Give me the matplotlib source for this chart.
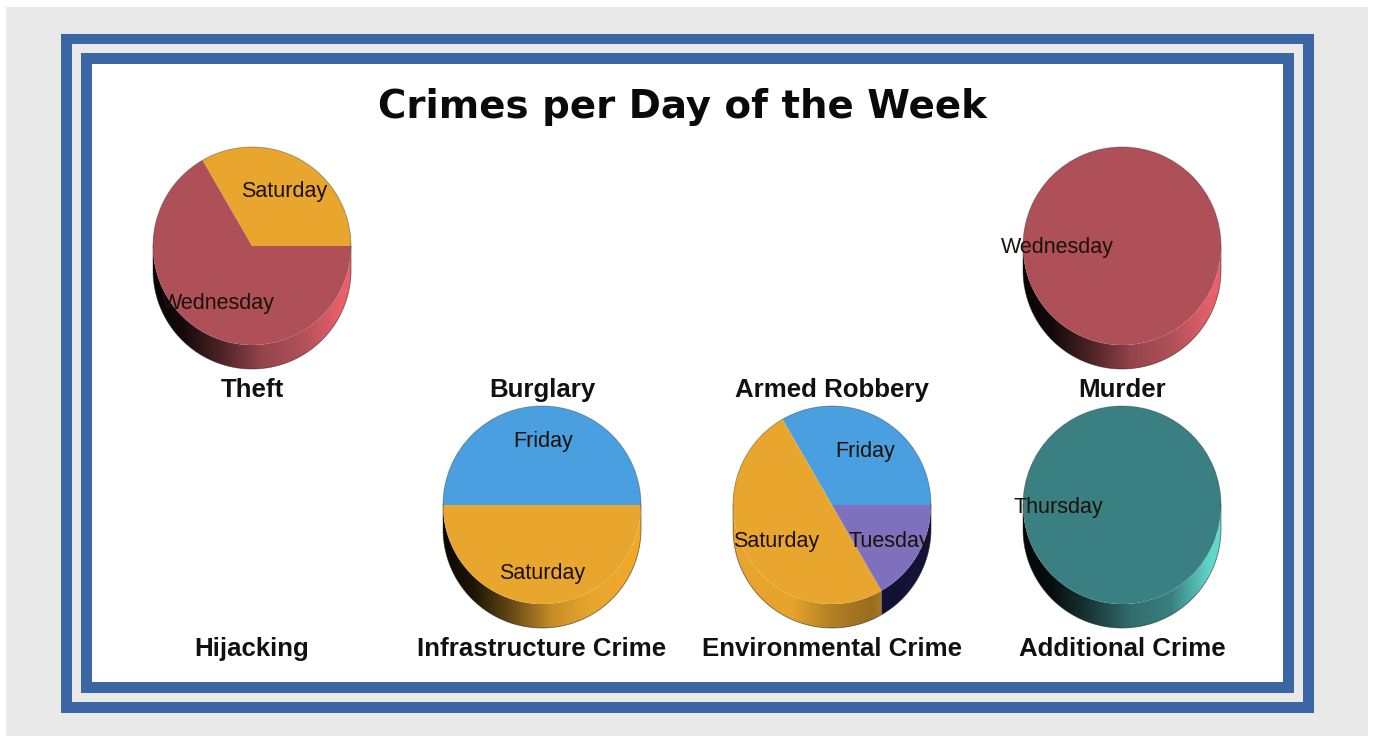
import numpy as np
import matplotlib
matplotlib.use('Agg')
import matplotlib.pyplot as plt
from matplotlib.colors import LinearSegmentedColormap
from matplotlib.patches import Rectangle, PathPatch
from matplotlib.path import Path

title = 'Crimes per Day of the Week'

# crime name, days, counts
theft_days = ['Saturday', 'Wednesday']
theft_counts = [1, 2]
murder_days = ['Wednesday']
murder_counts = [1]
infra_days = ['Friday', 'Saturday']
infra_counts = [1, 1]
env_days = ['Friday', 'Saturday', 'Tuesday']
env_counts = [2, 3, 1]
additional_days = ['Thursday']
additional_counts = [1]

top_names = ['Theft', 'Burglary', 'Armed Robbery', 'Murder']
bottom_names = ['Hijacking', 'Infrastructure Crime', 'Environmental Crime', 'Additional Crime']

day_colors = {'Saturday': '#E8A62E', 'Wednesday': '#AF5058', 'Friday': '#4A9FE0',
              'Tuesday': '#7F70BE', 'Thursday': '#3A8082'}
side_light = {'Saturday': '#F0A828', 'Wednesday': '#E8606C', 'Thursday': '#62D8CC'}

W, H = 1375, 736
BLUE = '#3A67A3'
GRAY = '#E9E9E9'
R = 99
DEPTH = 24


def Y(y):
    return H - y


def rect(ax, x0, y0, x1, y1, color):
    ax.add_patch(Rectangle((x0, Y(y1)), x1 - x0, y1 - y0, fc=color, ec='none', zorder=1))


def side_map(color, day):
    # side of the disc: dark on the left, lighter on the right
    c = np.array(matplotlib.colors.to_rgb(color))
    if day == 'Tuesday':
        return LinearSegmentedColormap.from_list('s', ['#0c0c28', '#14143a'])
    light = side_light.get(day, color)
    return LinearSegmentedColormap.from_list('s', [
        (0, c * 0.05), (0.15, c * 0.12), (0.35, c * 0.45), (0.55, c * 0.85),
        (0.75, c), (0.95, light), (1, light)])


def draw_pie(ax, days, counts, cx, cy, side_maps=None):
    colors = [day_colors[d] for d in days]
    wedges, _ = ax.pie(counts, colors=colors, center=(cx, Y(cy)), radius=R, startangle=0,
                       wedgeprops={'linewidth': 0}, normalize=True)
    for w, day, col in zip(wedges, days, colors):
        w.set_zorder(4)
        a0, a1 = max(w.theta1, 180), min(w.theta2, 360)
        if a1 <= a0:
            continue
        t = np.radians(np.linspace(a0, a1, 120))
        xs = cx + R * np.cos(t)
        ys = Y(cy) + R * np.sin(t)
        verts = list(zip(xs, ys)) + list(zip(xs[::-1], ys[::-1] - DEPTH))
        clip = PathPatch(Path(verts + [verts[0]], closed=True), fc='none', ec='none',
                         transform=ax.transData)
        ax.add_patch(clip)
        cmap = side_maps[day] if side_maps and day in side_maps else side_map(col, day)
        im = ax.imshow(np.linspace(0, 1, 256)[None, :], cmap=cmap, aspect='auto', zorder=3,
                       extent=(cx - R, cx + R, Y(cy) - R - DEPTH, Y(cy)), interpolation='bilinear')
        im.set_clip_path(clip)
    # thin outline of the disc
    t = np.radians(np.linspace(180, 360, 200))
    ox = np.r_[cx - R, cx + R * np.cos(t), cx + R]
    oy = np.r_[Y(cy), Y(cy) + R * np.sin(t) - DEPTH, Y(cy)]
    ax.plot(ox, oy, color='#222222', lw=0.6, alpha=0.6, zorder=5)
    t = np.radians(np.linspace(0, 180, 200))
    ax.plot(cx + R * np.cos(t), Y(cy) + R * np.sin(t), color='#222222', lw=0.6, alpha=0.4, zorder=5)


fig = plt.figure(figsize=(W / 100, H / 100), dpi=100, facecolor='white')
ax = fig.add_axes([0, 0, 1, 1])

draw_pie(ax, theft_days, theft_counts, 252, 246)
draw_pie(ax, murder_days, murder_counts, 1122, 246)
draw_pie(ax, infra_days, infra_counts, 542, 505)
env_side = {'Saturday': LinearSegmentedColormap.from_list('e', [
    (0, '#E8A62E'), (0.3, '#E6A42C'), (0.5, '#B08024'), (0.7, '#9A6C1E'), (0.78, '#B08026'), (1, '#C8922A')])}
draw_pie(ax, env_days, env_counts, 832, 505, env_side)
draw_pie(ax, additional_days, additional_counts, 1122, 505)

ax.set_xlim(0, W)
ax.set_ylim(0, H)
ax.set_aspect('auto')
ax.axis('off')

# frames
rect(ax, 6, 7, 1368, 736, GRAY)
rect(ax, 61, 34, 1314, 713, BLUE)
rect(ax, 72, 44, 1303, 702, GRAY)
rect(ax, 81, 53, 1294, 693, BLUE)
rect(ax, 92, 64, 1283, 682, 'white')

ax.text(682, Y(107), title, fontsize=27.9, fontweight='bold', family='DejaVu Sans',
        ha='center', va='center', color='#0a0a0a', zorder=6)

name_font = {'family': 'Liberation Sans', 'fontweight': 'bold', 'fontsize': 18.6,
             'ha': 'center', 'va': 'center', 'color': '#111111', 'zorder': 6}
for x, name in zip([252, 542, 832, 1122], top_names):
    ax.text(x, Y(390), name, **name_font)
for x, name in zip([252, 542, 832, 1122], bottom_names):
    ax.text(x, Y(649), name, **name_font)

label_font = {'family': 'Liberation Sans', 'fontsize': 15.5, 'ha': 'center', 'va': 'center',
              'color': '#1a1208', 'zorder': 6}
for x, y, txt in [(284, 192, theft_days[0]), (218, 304, theft_days[1]),
                  (1057, 248, murder_days[0]),
                  (543, 442, infra_days[0]), (542, 573, infra_days[1]),
                  (865, 451, env_days[0]), (776, 541, env_days[1]), (889, 541, env_days[2]),
                  (1058, 507, additional_days[0])]:
    ax.text(x, Y(y), txt, **label_font)

fig.savefig('out.png', dpi=100)
